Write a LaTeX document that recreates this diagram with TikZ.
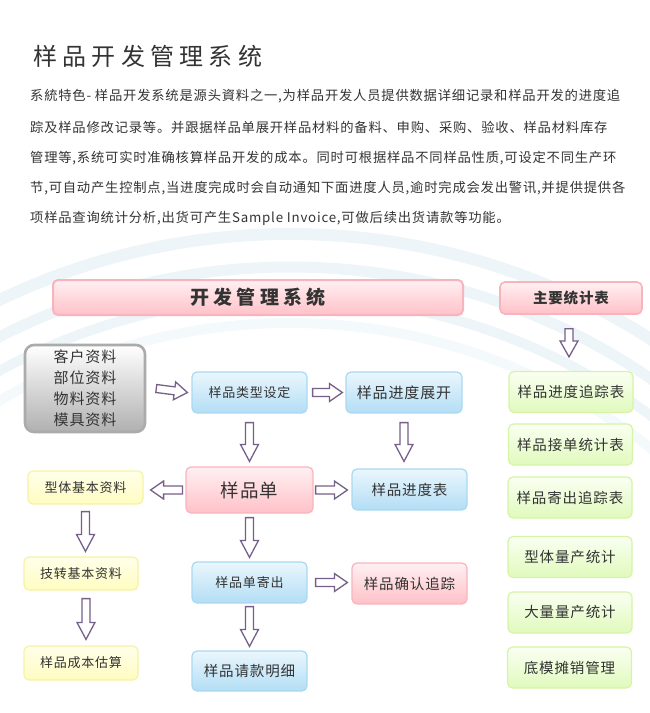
\documentclass[tikz,border=0pt]{standalone}
\usepackage{fontspec}
\setmainfont{Noto Sans CJK SC}[LetterSpace=6]
\newfontfamily\titlefont{Noto Sans CJK SC}[LetterSpace=22]
\usetikzlibrary{calc}
\definecolor{arrowpurple}{HTML}{76608A}
\definecolor{blueline}{HTML}{A9D9F2}
\definecolor{bluetop}{HTML}{EAF7FD}
\definecolor{bluefill}{HTML}{B3DDF5}
\definecolor{pinkline}{HTML}{F8B4BC}
\definecolor{pinktop}{HTML}{FFF0F2}
\definecolor{pinkfill}{HTML}{FFC1C8}
\definecolor{yellowline}{HTML}{F6F2A6}
\definecolor{yellowtop}{HTML}{FFFFEA}
\definecolor{yellowfill}{HTML}{FFFCC0}
\definecolor{greenline}{HTML}{D6F4A6}
\definecolor{greentop}{HTML}{FAFFF2}
\definecolor{greenfill}{HTML}{E0FABC}
\definecolor{grayline}{HTML}{ABABAB}
\definecolor{grayfill}{HTML}{B0B0B0}
\definecolor{textgray}{HTML}{333333}
\definecolor{bandblue}{HTML}{EDF5F9}
\begin{document}
\begin{tikzpicture}[x=1pt,y=-1pt,
    box/.style={rounded corners=5pt, line width=1.2pt, text=textgray, inner sep=0pt, align=center},
    bluebox/.style={box, draw=blueline, top color=bluetop, bottom color=bluefill},
    pinkbox/.style={box, draw=pinkline, top color=pinktop, bottom color=pinkfill},
    yellowbox/.style={box, draw=yellowline, top color=yellowtop, bottom color=yellowfill},
    greenbox/.style={box, draw=greenline, top color=greentop, bottom color=greenfill,
      minimum width=124pt, minimum height=41pt, font=\fontsize{14.5}{14.5}\selectfont},
    para/.style={anchor=west, inner sep=0pt, text=textgray, font=\fontsize{13.3}{13.3}\selectfont},
    blockarrow/.style={draw=arrowpurple, line width=1.3pt, fill=white, line join=miter,
      to path={let \p1=(\tikztostart), \p2=(\tikztotarget),
        \n1={veclen(\x2-\x1,\y2-\y1)}, \n2={atan2(\y2-\y1,\x2-\x1)} in
        [shift={(\p1)}, rotate=\n2] (0pt,4pt) -- (\n1-#1,4pt) -- (\n1-#1,9pt) -- (\n1,0pt)
        -- (\n1-#1,-9pt) -- (\n1-#1,-4pt) -- (0pt,-4pt) -- cycle}},
    blockarrow/.default=13pt]
  \useasboundingbox (0,0) rectangle (650,713);
  % background swooshes
  \begin{scope}
    \clip (0,0) rectangle (650,713);
    \draw[bandblue, line width=12pt] (290,905) circle[radius=671];
    \draw[bandblue, line width=11pt] (290,905) circle[radius=638];
    \draw[bandblue, line width=10pt] (290,905) circle[radius=608];
    \draw[bandblue!60, line width=10pt] (290,905) circle[radius=582];
  \end{scope}
  % heading and text
  \node[anchor=west, inner sep=0pt, text=textgray, font=\titlefont\fontsize{24}{24}\selectfont] (title) at (33,56) {样品开发管理系统};
  \node[para] (line1) at (30,96) {系統特色- 样品开发系统是源头資料之一,为样品开发人员提供数据详细记录和样品开发的进度追};
  \node[para] (line2) at (30,127) {踪及样品修改记录等。并跟据样品单展开样品材料的备料、申购、采购、验收、样品材料库存};
  \node[para] (line3) at (30,158) {管理等,系统可实时准确核算样品开发的成本。同时可根据样品不同样品性质,可设定不同生产环};
  \node[para] (line4) at (30,188) {节,可自动产生控制点,当进度完成时会自动通知下面进度人员,逾时完成会发出警讯,并提供提供各};
  \node[para] (line5) at (30,218) {项样品查询统计分析,出货可产生Sample Invoice,可做后续出货请款等功能。};
  % headers
  \node[pinkbox, line width=2pt, minimum width=410pt, minimum height=35pt, font=\titlefont\bfseries\fontsize{19}{19}\selectfont] (banner) at (258,297.5) {开发管理系统};
  \node[pinkbox, line width=1.6pt, minimum width=142pt, minimum height=32pt, font=\bfseries\fontsize{14.5}{14.5}\selectfont] (stat) at (571,298) {主要统计表};
  % main flow
  \node[box, draw=grayline, line width=2.6pt, rounded corners=9pt, top color=white, bottom color=grayfill,
    minimum width=120pt, minimum height=87pt, font=\fontsize{15}{21}\selectfont] (gray) at (85,388.5) {客户资料\\部位资料\\物料资料\\模具资料};
  \node[bluebox, minimum width=115pt, minimum height=41pt, font=\fontsize{13}{13}\selectfont] (type) at (249.5,392.5) {样品类型设定};
  \node[bluebox, minimum width=116pt, minimum height=41pt, font=\fontsize{15}{15}\selectfont] (expand) at (404,392.5) {样品进度展开};
  \node[pinkbox, minimum width=127pt, minimum height=46pt, font=\fontsize{18.5}{18.5}\selectfont] (order) at (249.5,490) {样品单};
  \node[bluebox, minimum width=115pt, minimum height=41pt, font=\fontsize{14.5}{14.5}\selectfont] (table) at (409.5,489.5) {样品进度表};
  \node[yellowbox, minimum width=115pt, minimum height=33pt, font=\fontsize{13}{13}\selectfont] (shape) at (85.5,487.5) {型体基本资料};
  \node[yellowbox, minimum width=114pt, minimum height=33pt, font=\fontsize{13}{13}\selectfont] (tech) at (81,573.5) {技转基本资料};
  \node[yellowbox, minimum width=114pt, minimum height=34pt, font=\fontsize{13}{13}\selectfont] (cost) at (81,663) {样品成本估算};
  \node[bluebox, minimum width=115pt, minimum height=41pt, font=\fontsize{13}{13}\selectfont] (send) at (249.5,582.5) {样品单寄出};
  \node[pinkbox, minimum width=115pt, minimum height=41pt, font=\fontsize{14.5}{14.5}\selectfont] (confirm) at (409.5,583.5) {样品确认追踪};
  \node[bluebox, minimum width=115pt, minimum height=40pt, font=\fontsize{14.5}{14.5}\selectfont] (pay) at (249.5,671) {样品请款明细};
  % statistics column
  \node[greenbox] (trace) at (571,392) {样品进度追踪表};
  \node[greenbox] (accept) at (570.5,444.5) {样品接单统计表};
  \node[greenbox] (mail) at (570,497.5) {样品寄出追踪表};
  \node[greenbox] (mass) at (570,557) {型体量产统计};
  \node[greenbox] (bulk) at (570,612.5) {大量量产统计};
  \node[greenbox] (mould) at (569.5,667.5) {底模摊销管理};
  % block arrows
  \draw[blockarrow] ([xshift=10pt]gray.east) to ([xshift=-4pt]type.west);
  \draw[blockarrow] ([xshift=5pt]type.east) to ([xshift=-3pt]expand.west);
  \draw[blockarrow=17pt] ([yshift=-9pt]type.south) to ([yshift=5pt]type.south |- order.north);
  \draw[blockarrow=17pt] ([yshift=-9pt]expand.south) to ([yshift=7pt]expand.south |- table.north);
  \draw[blockarrow] ([xshift=-3pt]order.west) to ([xshift=7pt]shape.east |- order.west);
  \draw[blockarrow] ([xshift=2pt]order.east) to ([xshift=-4pt]table.west |- order.east);
  \draw[blockarrow=17pt] ([yshift=-4pt]order.south) to ([yshift=4pt]send.north);
  \draw[blockarrow] ([xshift=8pt]send.east) to ([xshift=-4pt]confirm.west |- send.east);
  \draw[blockarrow=17pt] ([yshift=-3pt]send.south) to ([yshift=4pt]pay.north);
  \draw[blockarrow=17pt] ([yshift=-7pt]shape.south) to ([yshift=5pt]shape.south |- tech.north);
  \draw[blockarrow=17pt] ([xshift=5pt,yshift=-8pt]tech.south) to ([xshift=5pt,yshift=6pt]tech.south |- cost.north);
  \draw[blockarrow=16pt] ([xshift=-2pt,yshift=-14pt]stat.south) to ([xshift=-2pt,yshift=14pt]stat.south |- trace.north);
\end{tikzpicture}
\end{document}
